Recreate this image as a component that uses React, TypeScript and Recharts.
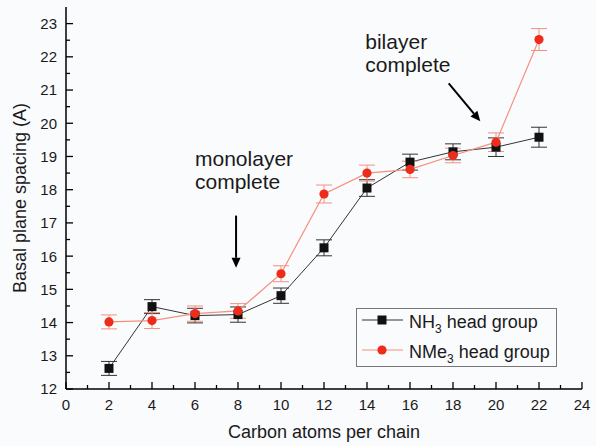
import React from 'react';
import { LineChart, Line, XAxis, YAxis, ErrorBar, Legend, ReferenceLine, ReferenceDot } from 'recharts';

const carbonAtoms = [2, 4, 6, 8, 10, 12, 14, 16, 18, 20, 22];
const nh3Spacing = [12.62, 14.48, 14.21, 14.24, 14.81, 16.25, 18.05, 18.83, 19.14, 19.28, 19.58];
const nh3Error = [0.21, 0.21, 0.22, 0.23, 0.23, 0.24, 0.25, 0.24, 0.24, 0.28, 0.3];
const nme3Spacing = [14.02, 14.06, 14.27, 14.35, 15.47, 17.87, 18.5, 18.61, 19.03, 19.43, 22.52];
const nme3Error = [0.21, 0.24, 0.23, 0.22, 0.24, 0.27, 0.24, 0.25, 0.22, 0.28, 0.33];

const xTicks = [0, 1, 2, 3, 4, 5, 6, 7, 8, 9, 10, 11, 12, 13, 14, 15, 16, 17, 18, 19, 20, 21, 22, 23, 24];
const yTicks = [12, 12.5, 13, 13.5, 14, 14.5, 15, 15.5, 16, 16.5, 17, 17.5, 18, 18.5, 19, 19.5, 20, 20.5, 21, 21.5, 22, 22.5, 23];

const xTitle = 'Carbon atoms per chain';
const yTitle = 'Basal plane spacing (A)';
const monoText = ['monolayer', 'complete'];
const biText = ['bilayer', 'complete'];
const legendLabels: Record<string, string[]> = {
  nh3: ['NH', '3', ' head group'],
  nme3: ['NMe', '3', ' head group'],
};

const data = carbonAtoms.map((c, i) => ({
  carbon: c,
  nh3: nh3Spacing[i],
  nh3Err: nh3Error[i],
  nme3: nme3Spacing[i],
  nme3Err: nme3Error[i],
}));

const BLACK = '#111';
const RED = '#ee2c1c';
const RED_LINE = '#f5907e';
const TEXT = '#1a1a1a';

const BottomTick = (props: any) => {
  const { x, y, payload } = props;
  const major = payload.value % 2 === 0;
  return (
    <g>
      <line x1={x} y1={y} x2={x} y2={y - (major ? 7 : 4)} stroke="#000" strokeWidth={1.3} />
      {major && (
        <text x={x} y={y + 21} textAnchor="middle" fontSize={15} fill={TEXT}>
          {payload.value}
        </text>
      )}
    </g>
  );
};

const TopTick = (props: any) => {
  const { x, y, payload } = props;
  const major = payload.value % 2 === 0;
  return <line x1={x} y1={y} x2={x} y2={y + (major ? 7 : 4)} stroke="#000" strokeWidth={1.3} />;
};

const LeftTick = (props: any) => {
  const { x, y, payload } = props;
  const major = Number.isInteger(payload.value);
  return (
    <g>
      <line x1={x} y1={y} x2={x + (major ? 7 : 4)} y2={y} stroke="#000" strokeWidth={1.3} />
      {major && (
        <text x={x - 9} y={y} dy="0.36em" textAnchor="end" fontSize={15} fill={TEXT}>
          {payload.value}
        </text>
      )}
    </g>
  );
};

const RightTick = (props: any) => {
  const { x, y, payload } = props;
  const major = Number.isInteger(payload.value);
  return <line x1={x} y1={y} x2={x - (major ? 7 : 4)} y2={y} stroke="#000" strokeWidth={1.3} />;
};

const SquareDot = (props: any) => {
  const { cx, cy } = props;
  if (cx == null || cy == null) return null;
  return <rect x={cx - 4.5} y={cy - 4.5} width={9} height={9} fill={BLACK} />;
};

const CircleDot = (props: any) => {
  const { cx, cy } = props;
  if (cx == null || cy == null) return null;
  return <circle cx={cx} cy={cy} r={4.6} fill={RED} />;
};

const Arrow = (props: any) => {
  const { x1, y1, x2, y2 } = props;
  if ([x1, y1, x2, y2].some((v) => v == null || isNaN(v))) return null;
  const ang = Math.atan2(y2 - y1, x2 - x1);
  const len = 10;
  const half = 4.5;
  const bx = x2 - len * Math.cos(ang);
  const by = y2 - len * Math.sin(ang);
  const px = -Math.sin(ang) * half;
  const py = Math.cos(ang) * half;
  return (
    <g>
      <line x1={x1} y1={y1} x2={bx} y2={by} stroke="#000" strokeWidth={2} />
      <polygon points={`${x2},${y2} ${bx + px},${by + py} ${bx - px},${by - py}`} fill="#000" />
    </g>
  );
};

const makeNote = (lines: string[]) => (props: any) => {
  const { cx, cy } = props;
  if (cx == null || cy == null) return null;
  return (
    <text x={cx} y={cy} fontSize={21} fill={TEXT}>
      <tspan x={cx} dy={0}>{lines[0]}</tspan>
      <tspan x={cx} dy={23}>{lines[1]}</tspan>
    </text>
  );
};

const LegendContent = (props: any) => {
  const { payload } = props;
  const items = (payload || []).filter((p: any) => legendLabels[p.dataKey]);
  return (
    <svg width={199} height={57} style={{ display: 'block' }}>
      {items.map((p: any, i: number) => {
        const key = p.dataKey as string;
        const cy = 11 + i * 30;
        const parts = legendLabels[key];
        const isRed = key === 'nme3';
        return (
          <g key={key}>
            <line x1={5} y1={cy} x2={46} y2={cy} stroke={isRed ? RED_LINE : '#333'} strokeWidth={1.2} />
            {isRed ? (
              <circle cx={25} cy={cy} r={4.6} fill={RED} />
            ) : (
              <rect x={20.5} y={cy - 4.5} width={9} height={9} fill={BLACK} />
            )}
            <text x={52} y={cy + 8} fontSize={18} fill={TEXT}>
              {parts[0]}
              <tspan fontSize={12} dy={5}>{parts[1]}</tspan>
              <tspan dy={-5}>{parts[2]}</tspan>
            </text>
          </g>
        );
      })}
    </svg>
  );
};

export default function App() {
  return (
    <div
      style={{
        position: 'absolute',
        left: 0,
        top: 0,
        width: 596,
        height: 446,
        background: '#fafbfd',
        fontFamily: '"Liberation Sans", Arial, sans-serif',
      }}
    >
      <LineChart width={596} height={446} data={data} margin={{ top: 7, right: 14, bottom: 0, left: 0 }}>
        <XAxis
          dataKey="carbon"
          type="number"
          domain={[0, 24]}
          ticks={xTicks}
          interval={0}
          height={57}
          tickSize={0}
          tickMargin={0}
          tickLine={false}
          tick={<BottomTick />}
          axisLine={{ stroke: '#000', strokeWidth: 1.5 }}
          allowDataOverflow
          label={{ value: xTitle, position: 'insideBottom', offset: 8, style: { fontSize: 18, fill: TEXT } }}
        />
        <XAxis
          xAxisId="top"
          orientation="top"
          type="number"
          domain={[0, 24]}
          ticks={xTicks}
          interval={0}
          height={0}
          tickSize={0}
          tickMargin={0}
          tickLine={false}
          tick={<TopTick />}
          axisLine={{ stroke: '#000', strokeWidth: 1.5 }}
          allowDataOverflow
        />
        <YAxis
          type="number"
          domain={[12, 23.5]}
          ticks={yTicks}
          interval={0}
          width={66}
          tickSize={0}
          tickMargin={0}
          tickLine={false}
          tick={<LeftTick />}
          axisLine={{ stroke: '#000', strokeWidth: 1.5 }}
          allowDataOverflow
          label={{
            value: yTitle,
            angle: -90,
            position: 'insideLeft',
            offset: 20,
            style: { textAnchor: 'middle', fontSize: 18, fill: TEXT },
          }}
        />
        <YAxis
          yAxisId="right"
          orientation="right"
          type="number"
          domain={[12, 23.5]}
          ticks={yTicks}
          interval={0}
          width={0}
          tickSize={0}
          tickMargin={0}
          tickLine={false}
          tick={<RightTick />}
          axisLine={{ stroke: '#000', strokeWidth: 1.5 }}
          allowDataOverflow
        />
        <Line
          dataKey="nh3"
          name="NH3 head group"
          stroke="#333"
          strokeWidth={1}
          dot={<SquareDot />}
          activeDot={false}
          isAnimationActive={false}
        >
          <ErrorBar dataKey="nh3Err" width={8} stroke="#333" strokeWidth={1} direction="y" />
        </Line>
        <Line
          dataKey="nme3"
          name="NMe3 head group"
          stroke={RED_LINE}
          strokeWidth={1.2}
          dot={<CircleDot />}
          activeDot={false}
          isAnimationActive={false}
        >
          <ErrorBar dataKey="nme3Err" width={8} stroke={RED_LINE} strokeWidth={1} direction="y" />
        </Line>
        <ReferenceLine segment={[{ x: 7.91, y: 17.22 }, { x: 7.91, y: 15.65 }]} shape={<Arrow />} ifOverflow="visible" />
        <ReferenceLine segment={[{ x: 17.8, y: 21.2 }, { x: 19.27, y: 20.06 }]} shape={<Arrow />} ifOverflow="visible" />
        <ReferenceDot x={6.0} y={18.71} r={0} shape={makeNote(monoText)} ifOverflow="visible" />
        <ReferenceDot x={13.92} y={22.23} r={0} shape={makeNote(biText)} ifOverflow="visible" />
        <Legend
          layout="vertical"
          align="center"
          verticalAlign="middle"
          content={<LegendContent />}
          wrapperStyle={{
            left: 356,
            top: 308,
            width: 201,
            height: 59,
            border: '1px solid #777',
            boxSizing: 'border-box',
            background: '#fafbfd',
          }}
        />
      </LineChart>
    </div>
  );
}
